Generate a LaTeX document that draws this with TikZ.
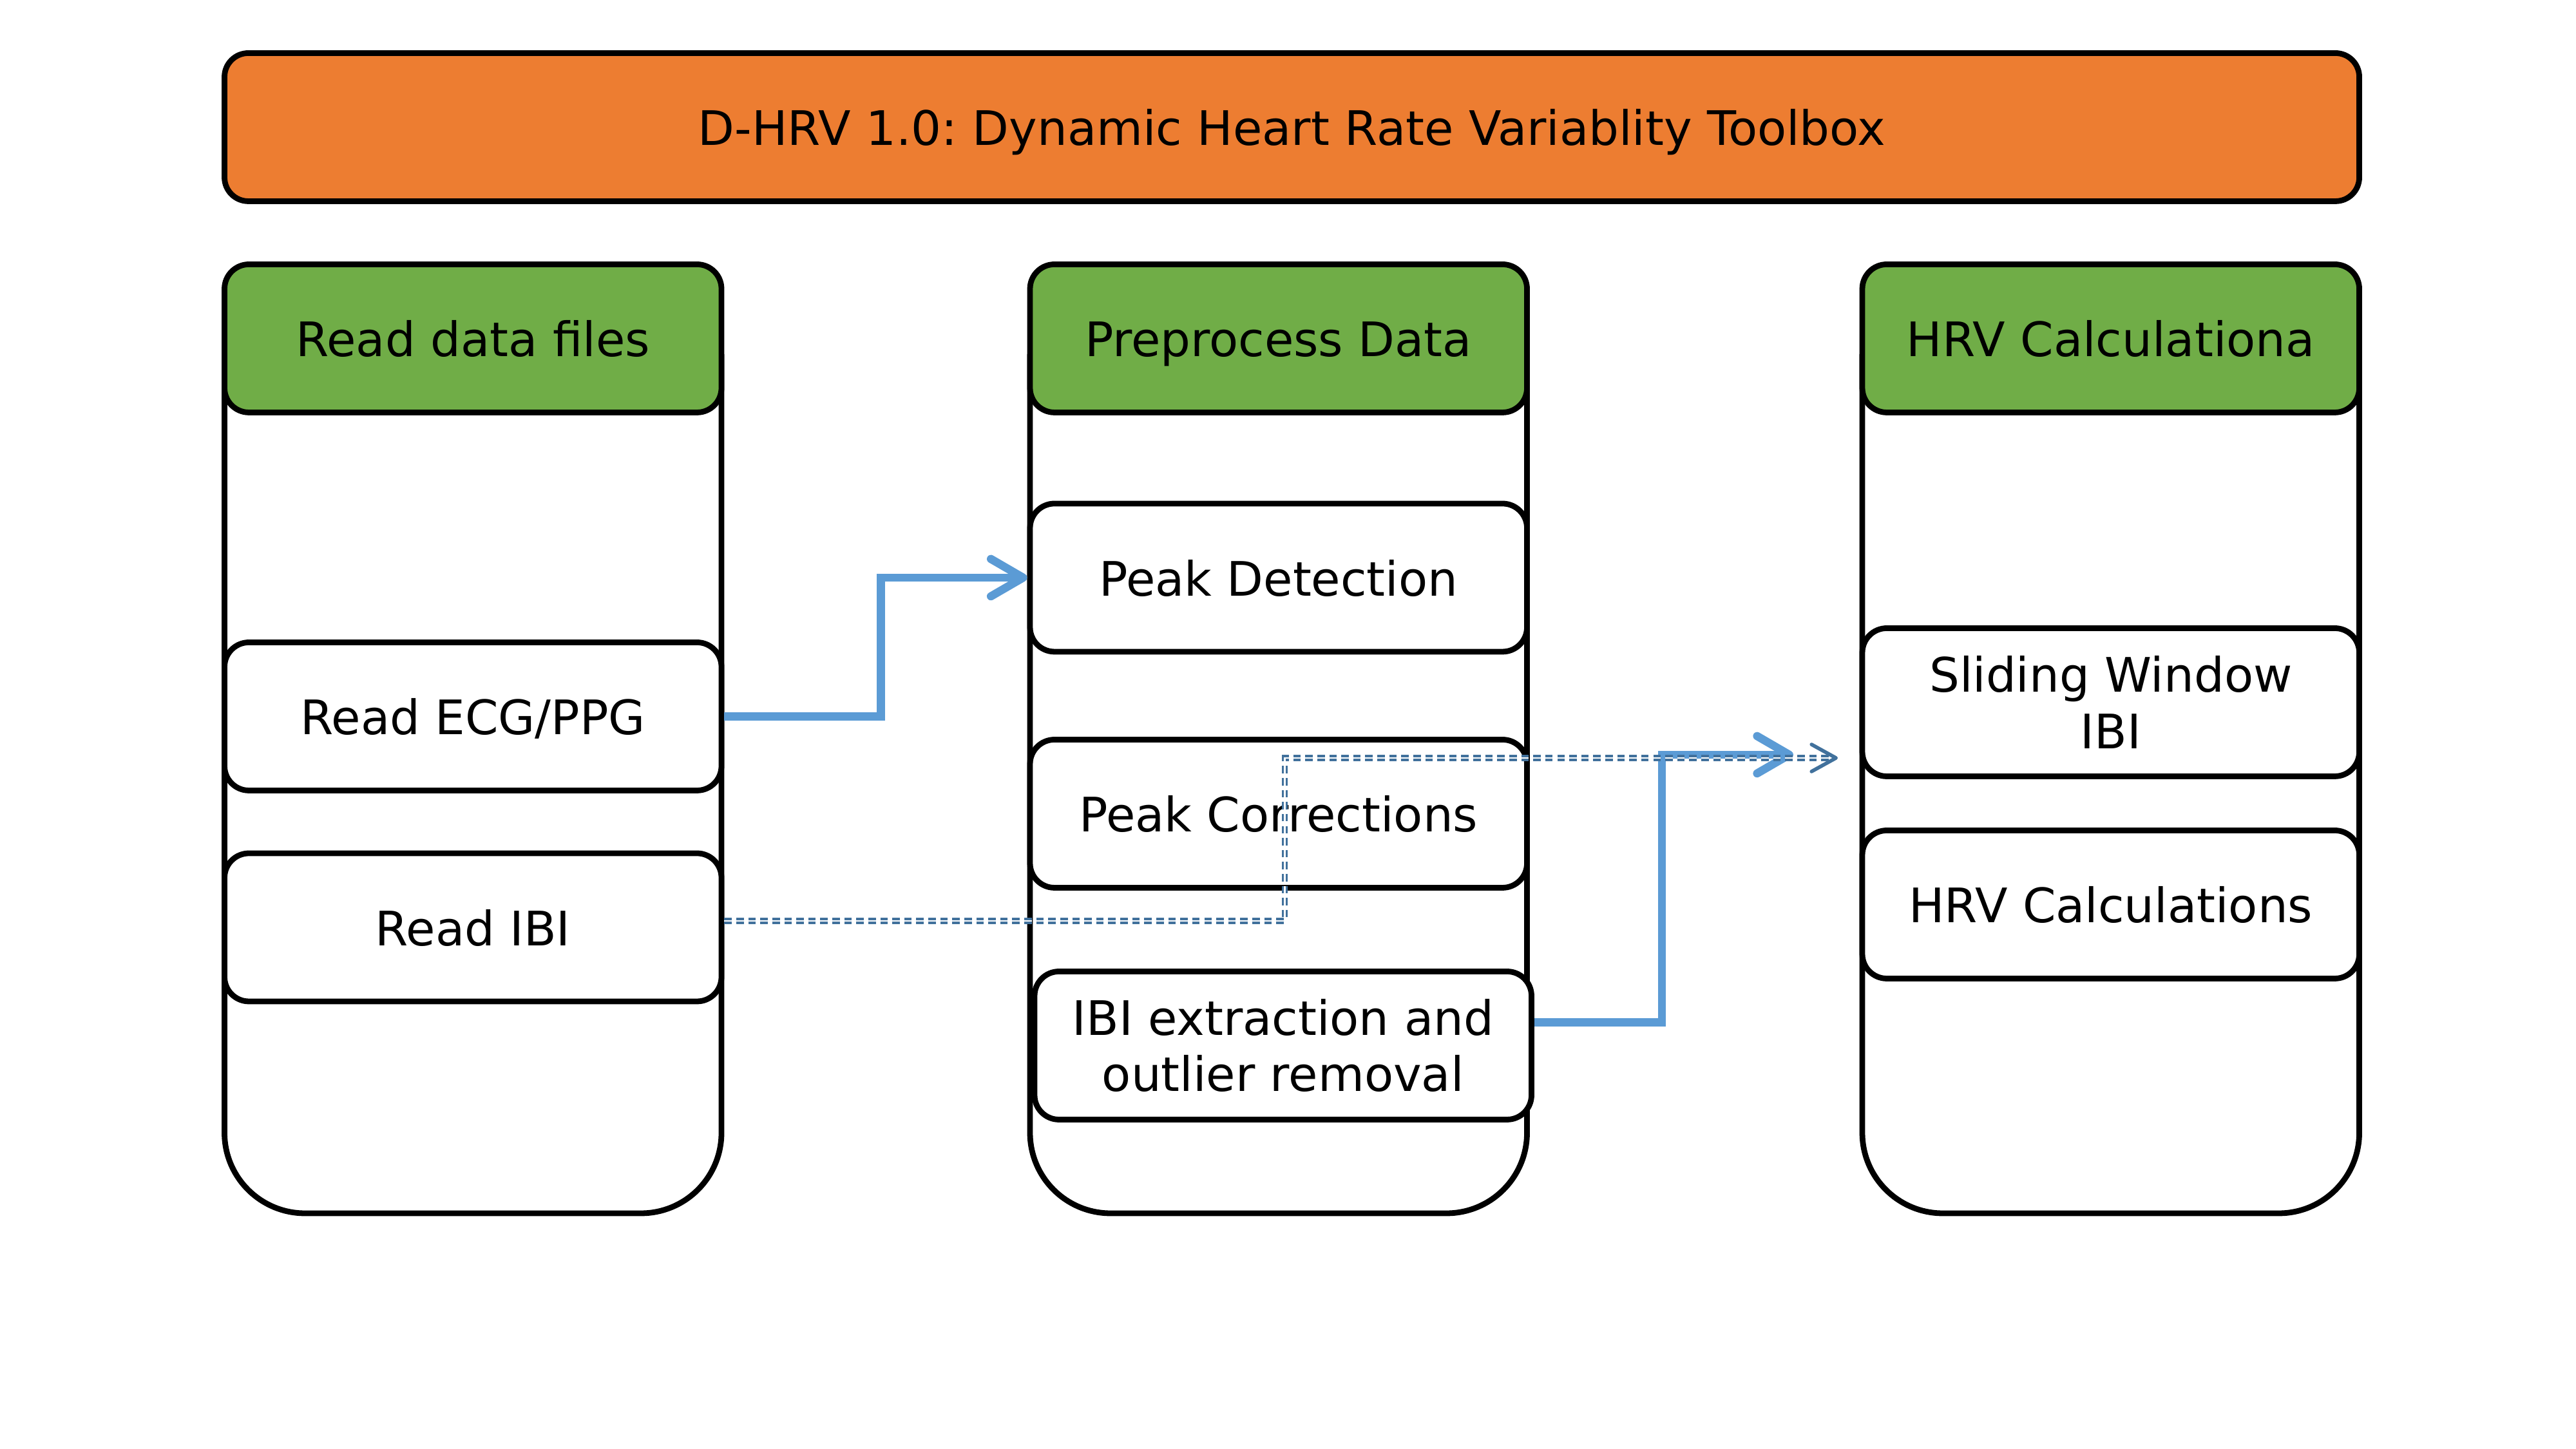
\documentclass[tikz,border=0pt]{standalone}
\usepackage{fontspec}
\setmainfont{DejaVu Sans}
\usetikzlibrary{arrows.meta}
\frenchspacing

\definecolor{titleorange}{HTML}{ED7D31}
\definecolor{headgreen}{HTML}{70AD47}
\definecolor{flowblue}{HTML}{5B9BD5}
\definecolor{ibiblue}{HTML}{41719C}

% one lane: left x, right x (top is hidden under the header)
\newcommand{\Lane}[2]{\draw[line width=2.5pt] (#1,17) -- (#1,4.91)
    arc[start angle=180, end angle=270, radius=1.25] -- (#2-1.25,3.66)
    arc[start angle=270, end angle=360, radius=1.25] -- (#2,17);}

\begin{document}
\begin{tikzpicture}[
    box/.style={draw, line width=2.5pt, rounded corners=0.38cm, fill=white,
      minimum width=7.715cm, minimum height=2.30cm, inner sep=0pt,
      align=center, font=\fontsize{21}{25}\selectfont},
    oneline/.style={box, text height=16pt, text depth=0pt},
    head/.style={oneline, fill=headgreen},
    flow/.style={draw=flowblue, line width=3.6pt,
      -{Straight Barb[length=0.5cm, width=0.58cm, line width=3.6pt, round]}},
    ibiflow/.style={draw=ibiblue, line width=1pt, double, double distance=0.8pt,
      dash pattern=on 3.3pt off 2pt,
      -{Straight Barb[length=0.38cm, width=0.42cm, line width=1.6pt, round]}}
  ]

    \useasboundingbox (0,0) rectangle (39.99,22.5);

    \node[oneline, fill=titleorange, minimum width=33.14cm, rounded corners=0.37cm]
      (title) at (20.055,20.525) {D-HRV 1.0: Dynamic Heart Rate Variablity Toolbox};

    \Lane{3.485}{11.20}
    \Lane{15.99}{23.705}
    \Lane{28.91}{36.625}

    \node[head] (readhead) at (7.3425,17.245) {Read data files};
    \node[head] (prephead) at (19.8475,17.245) {Preprocess Data};
    \node[head] (hrvhead) at (32.7675,17.245) {HRV Calculationa};

    \node[oneline] (ecg) at (7.3425,11.375) {Read ECG/PPG};
    \node[oneline] (ibi) at (7.3425,8.10) {Read IBI};

    \node[oneline] (detect) at (19.8475,13.53) {Peak Detection};
    \node[oneline] (correct) at (19.8475,9.865) {Peak Corrections};
    \node[box] (extract) at (19.9175,6.265) {IBI extraction and\\outlier removal};

    \node[box] (window) at (32.7675,11.595) {Sliding Window\\IBI};
    \node[oneline] (hrvcalc) at (32.7675,8.455) {HRV Calculations};

    \coordinate (ibiend) at (27.84,10.78);
    \coordinate (dotend) at (28.53,10.73);

    \draw[flow] (ecg.east) -- ++(2.43,0) |- (detect.west);
    \draw[flow] ([yshift=0.36cm]extract.east) -- ++(1.98,0) |- (ibiend);
    \draw[ibiflow] ([yshift=0.1cm]ibi.east) -- ++(8.70,0) |- (dotend);

\end{tikzpicture}
\end{document}
